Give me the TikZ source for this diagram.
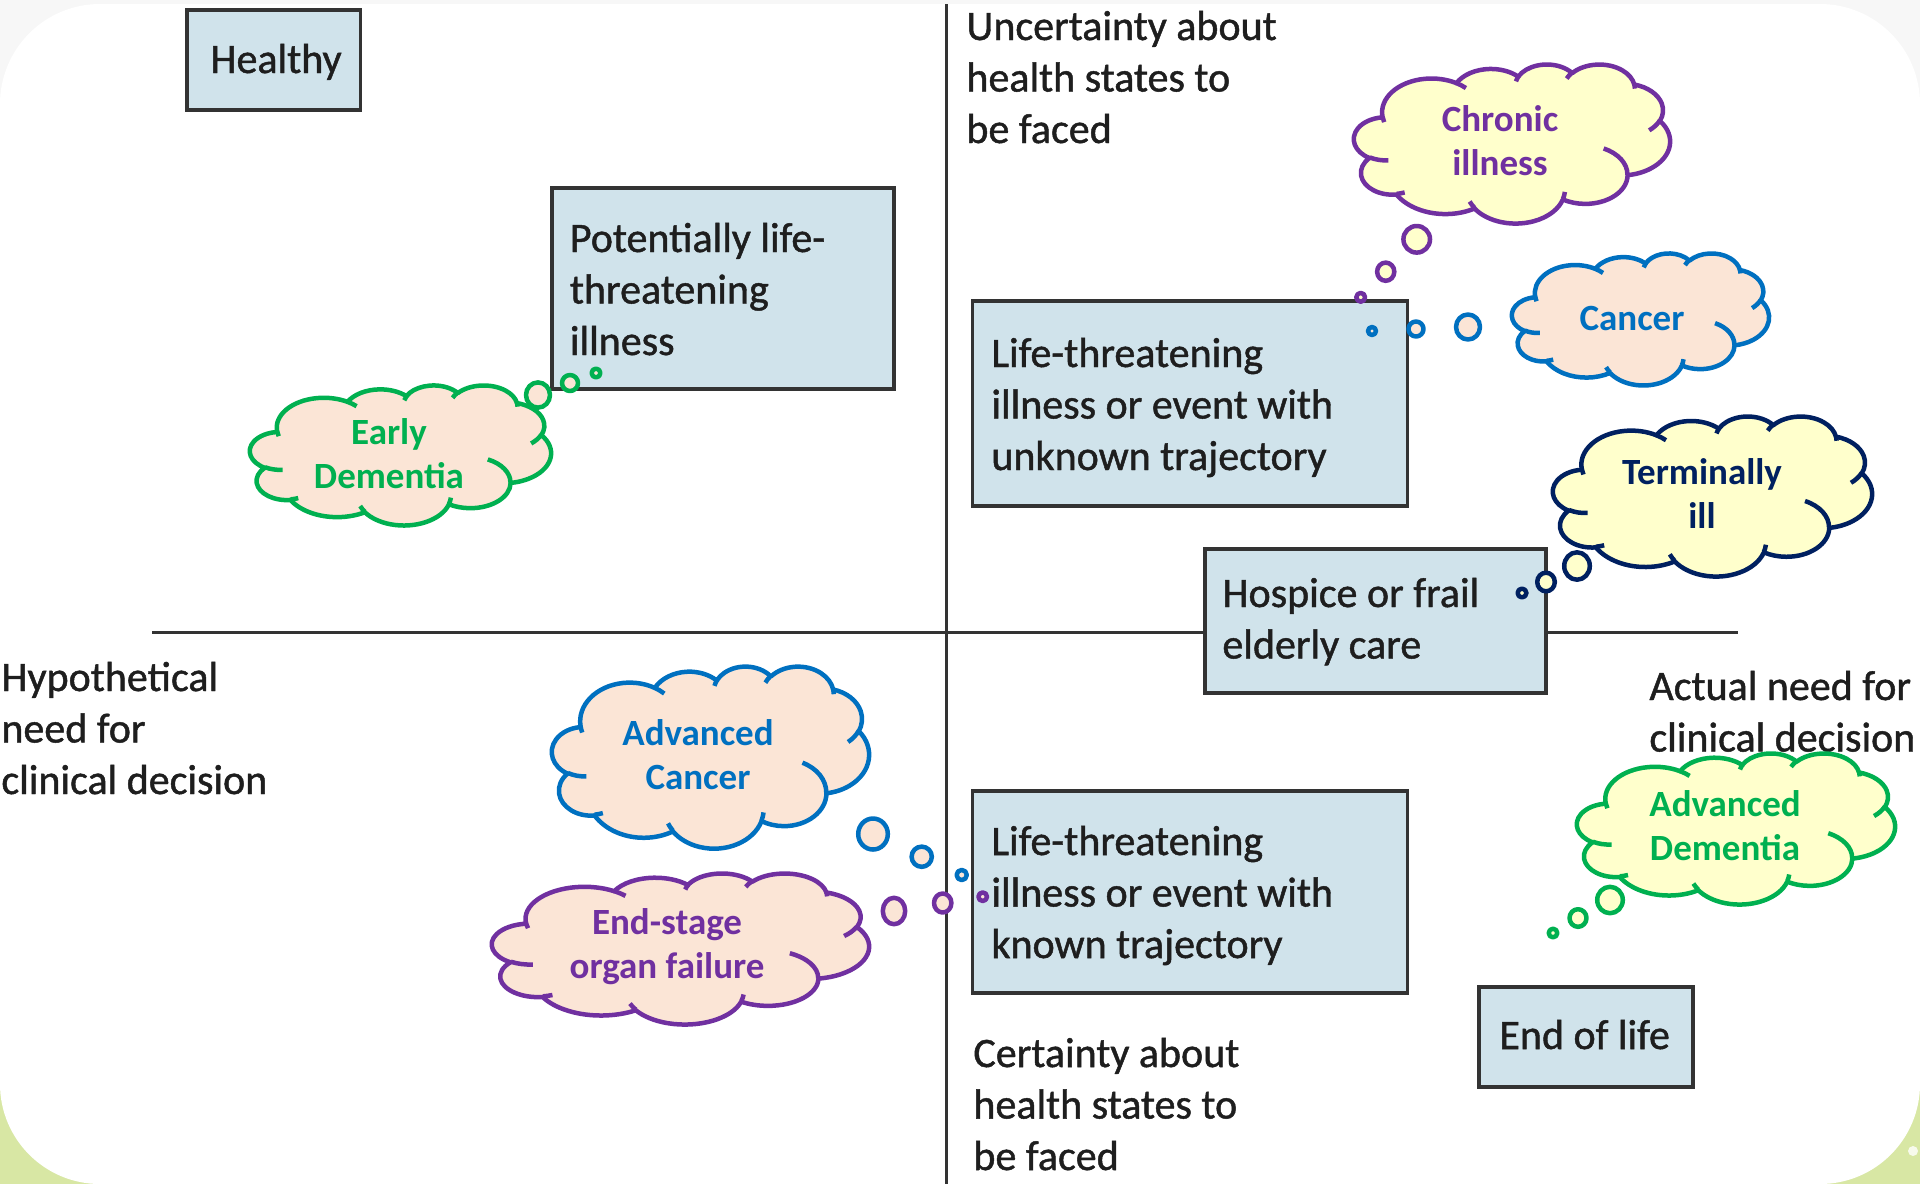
\documentclass[tikz,border=0pt]{standalone}
\usepackage{fontspec}
\setmainfont{Carlito}
\newfontfamily\boxfont{Carlito}[FakeBold=1.1]
\definecolor{boxfill}{HTML}{D0E3EB}
\definecolor{boxdraw}{HTML}{333333}
\definecolor{axisc}{HTML}{333333}
\definecolor{txt}{HTML}{1E1E1E}
\definecolor{cpurple}{HTML}{7030A0}
\definecolor{cblue}{HTML}{0070C0}
\definecolor{cnavy}{HTML}{002060}
\definecolor{cgreen}{HTML}{00B050}
\definecolor{cyellow}{HTML}{FFFFCC}
\definecolor{cpeach}{HTML}{FBE5D6}
\definecolor{bggray}{HTML}{F7F7F7}
\definecolor{bggreen}{HTML}{D8E7A4}

\newcommand\cldang[5]{%
  \pgfmathsetmacro\cldtmpa{atan2((#2)*sin(#4),(#3)*cos(#4))}%
  \pgfmathsetmacro\cldtmpb{atan2((#2)*sin((#4)+(#5)),(#3)*cos((#4)+(#5)))}%
  \pgfmathsetmacro\cldtmpd{mod(\cldtmpb-(\cldtmpa)+720,360)}%
  \expandafter\xdef\csname cld#1s\endcsname{\cldtmpa}%
  \expandafter\xdef\csname cld#1d\endcsname{\cldtmpd}%
}
\cldang{a}{6.753}{9.190}{-190.48748}{123.78053}
\cldang{b}{5.333}{7.267}{-144.10238}{89.94523}
\cldang{c}{4.365}{5.945}{-145.80792}{99.72302}
\cldang{d}{4.857}{6.595}{-130.98607}{117.24173}
\cldang{e}{5.333}{7.273}{-78.70888}{109.02692}
\cldang{f}{6.775}{9.220}{-46.26725}{130.269}
\cldang{g}{5.785}{7.867}{0.62502}{114.03333}
\cldang{h}{6.752}{9.215}{22.4516}{115.17255}
\cldang{i}{7.720}{10.543}{66.24263}{75.71102}
\cldang{j}{4.360}{5.918}{-274.94208}{146.73557}
\cldang{k}{4.345}{5.945}{-246.8285}{152.51885}
\cldang{l}{4.345}{5.945}{86.742}{26.4295}
\cldang{m}{4.360}{5.918}{73.61047}{11.44747}
\cldang{n}{6.752}{9.215}{137.62415}{14.0811}
\cldang{o}{6.752}{9.215}{6.45327}{15.99835}
\cldang{p}{5.785}{7.867}{-70.29235}{70.91737}
\cldang{q}{5.333}{7.273}{30.31803}{27.7515}
\cldang{r}{4.857}{6.595}{-13.74433}{14.8589}
\cldang{s}{4.857}{6.595}{-149.18145}{18.19537}
\cldang{t}{4.365}{5.945}{-163.49427}{17.68635}
\cldang{u}{6.753}{9.190}{-66.70695}{12.31935}
\cldang{v}{6.753}{9.190}{157.65435}{11.85817}

\newcommand\drawcloud[6]{%
 \begin{scope}[shift={(#1,#2)},xscale=#3/43.2,yscale=#4/43.2]
  \path[cloudline,draw=#5,fill=#6] (3.900,14.370)
   arc[x radius=6.753,y radius=9.190,start angle=\cldas,delta angle=\cldad]
   arc[x radius=5.333,y radius=7.267,start angle=\cldbs,delta angle=\cldbd]
   arc[x radius=4.365,y radius=5.945,start angle=\cldcs,delta angle=\cldcd]
   arc[x radius=4.857,y radius=6.595,start angle=\cldds,delta angle=\clddd]
   arc[x radius=5.333,y radius=7.273,start angle=\cldes,delta angle=\clded]
   arc[x radius=6.775,y radius=9.220,start angle=\cldfs,delta angle=\cldfd]
   arc[x radius=5.785,y radius=7.867,start angle=\cldgs,delta angle=\cldgd]
   arc[x radius=6.752,y radius=9.215,start angle=\cldhs,delta angle=\cldhd]
   arc[x radius=7.720,y radius=10.543,start angle=\cldis,delta angle=\cldid]
   arc[x radius=4.360,y radius=5.918,start angle=\cldjs,delta angle=\cldjd]
   arc[x radius=4.345,y radius=5.945,start angle=\cldks,delta angle=\cldkd]
   -- cycle;
  \path[cloudline,draw=#5]
   (4.693,26.177) arc[x radius=4.345,y radius=5.945,start angle=\cldls,delta angle=\cldld]
   (6.928,34.899) arc[x radius=4.360,y radius=5.918,start angle=\cldms,delta angle=\cldmd]
   (16.478,39.090) arc[x radius=6.752,y radius=9.215,start angle=\cldns,delta angle=\cldnd]
   (28.827,34.751) arc[x radius=6.752,y radius=9.215,start angle=\cldos,delta angle=\cldod]
   (34.129,22.954) arc[x radius=5.785,y radius=7.867,start angle=\cldps,delta angle=\cldpd]
   (41.798,15.354) arc[x radius=5.333,y radius=7.273,start angle=\cldqs,delta angle=\cldqd]
   (38.324,5.426) arc[x radius=4.857,y radius=6.595,start angle=\cldrs,delta angle=\cldrd]
   (29.078,3.952) arc[x radius=4.857,y radius=6.595,start angle=\cldss,delta angle=\cldsd]
   (22.141,4.720) arc[x radius=4.365,y radius=5.945,start angle=\cldts,delta angle=\cldtd]
   (14.000,5.192) arc[x radius=6.753,y radius=9.190,start angle=\cldus,delta angle=\cldud]
   (4.127,15.789) arc[x radius=6.753,y radius=9.190,start angle=\cldvs,delta angle=\cldvd];
 \end{scope}}

\tikzset{
 boxst/.style={draw=boxdraw, fill=boxfill, line width=1.75pt, inner sep=0pt},
 boxtxt/.style={font=\boxfont\fontsize{21}{25.75}\selectfont, text=txt, align=left, inner sep=0pt, anchor=base west},
 axisline/.style={draw=axisc, line width=1.5pt},
 cloudline/.style={line width=2.25pt, line join=round},
 cloudtxt/.style={font=\bfseries\fontsize{18.5}{22}\selectfont, align=center, inner sep=0pt}
}

\begin{document}
\begin{tikzpicture}[x=0.5pt,y=-0.5pt]
\useasboundingbox (0,0) rectangle (1920,1184);
% background
\fill[bggray] (0,0) rectangle (1920,1184);
\fill[bggreen] (0,900) rectangle (1920,1184);
\fill[white, rounded corners=50pt] (0,4) rectangle (1920,1184);
\fill[white, opacity=0.8] (1913,1151) circle[radius=5];

% axes
\coordinate (vtop) at (946,4);
\coordinate (vbot) at (946,1184);
\coordinate (hleft) at (152,632);
\coordinate (hright) at (1738,632);
\draw[axisline] (vtop) -- (vbot);
\draw[axisline] (hleft) -- (hright);

% boxes
\node[boxst, minimum width=86.75pt, minimum height=50pt] (healthy) at (273.75,60) {};
\node[boxst, minimum width=171pt, minimum height=100.5pt] (potbox) at (723,288.5) {};
\node[boxst, minimum width=217.5pt, minimum height=102.5pt] (unkbox) at (1190,403.5) {};
\node[boxst, minimum width=170.5pt, minimum height=72pt] (hosbox) at (1375.5,621) {};
\node[boxst, minimum width=217.5pt, minimum height=101pt] (knobox) at (1190,892) {};
\node[boxst, minimum width=107pt, minimum height=50pt] (endbox) at (1586,1037) {};

% texts (anchor = baseline of the last line)
\node[boxtxt] (healthyt) at (210,73) {Healthy};
\node[boxtxt] (pott) at (569.5,355) {Potentially life-\\threatening\\illness};
\node[boxtxt] (unkt) at (991,470) {Life-threatening\\illness or event with\\unknown trajectory};
\node[boxtxt] (host) at (1222,658.5) {Hospice or frail\\elderly care};
\node[boxtxt] (knot) at (991,958) {Life-threatening\\illness or event with\\known trajectory};
\node[boxtxt] (endt) at (1499,1049) {End of life};
\node[boxtxt] (unct) at (966,143) {Uncertainty about\\health states to\\be faced};
\node[boxtxt] (hypt) at (1,794) {Hypothetical\\need for\\clinical decision};
\node[boxtxt] (actt) at (1649,751.5) {Actual need for\\clinical decision};
\node[boxtxt] (cert) at (973,1170) {Certainty about\\health states to\\be faced};

% clouds
\drawcloud{250}{385}{301}{140}{cgreen}{cpeach}
\drawcloud{1354}{64}{316}{159}{cpurple}{cyellow}
\drawcloud{1512}{253}{257}{132}{cblue}{cpeach}
\drawcloud{1553}{416}{319}{160}{cnavy}{cyellow}
\drawcloud{552}{666}{317}{182}{cblue}{cpeach}
\drawcloud{492}{873}{377}{151}{cpurple}{cpeach}
\drawcloud{1577}{753}{318}{151}{cgreen}{cyellow}

% bubbles
\begin{scope}[cloudline]
\draw[cgreen, fill=cpeach] (538,395) ellipse[x radius=12, y radius=12.6];
\draw[cgreen, fill=cpeach] (570,383) ellipse[x radius=8, y radius=8];
\draw[cgreen, fill=cpeach] (596,373) ellipse[x radius=4.4, y radius=4.4];
\draw[cpurple, fill=cyellow] (1416.7,239.3) ellipse[x radius=13.3, y radius=13.3];
\draw[cpurple, fill=cyellow] (1385.7,271.7) ellipse[x radius=8.6, y radius=9.1];
\draw[cpurple, fill=cyellow] (1360.7,297.3) ellipse[x radius=4.4, y radius=4.4];
\draw[cblue, fill=cpeach] (1468,327) ellipse[x radius=12, y radius=12.5];
\draw[cblue, fill=cpeach] (1416,329) ellipse[x radius=7.5, y radius=7.5];
\draw[cblue, fill=cpeach] (1372,331) ellipse[x radius=4, y radius=4];
\draw[cnavy, fill=cyellow] (1577,566) ellipse[x radius=12.8, y radius=13.7];
\draw[cnavy, fill=cyellow] (1546,582) ellipse[x radius=8.8, y radius=9.3];
\draw[cnavy, fill=cyellow] (1522,593) ellipse[x radius=4.4, y radius=4.4];
\draw[cblue, fill=cpeach] (873,834) ellipse[x radius=14.8, y radius=15.5];
\draw[cblue, fill=cpeach] (921.7,856.7) ellipse[x radius=10.1, y radius=10.1];
\draw[cblue, fill=cpeach] (961.7,875) ellipse[x radius=5.1, y radius=5.1];
\draw[cpurple, fill=cpeach] (894,911) ellipse[x radius=11.2, y radius=13.2];
\draw[cpurple, fill=cpeach] (942.7,903) ellipse[x radius=8.7, y radius=9.5];
\draw[cpurple, fill=cpeach] (982.7,896.7) ellipse[x radius=4.3, y radius=4.3];
\draw[cgreen, fill=cyellow] (1610,900) ellipse[x radius=12.8, y radius=13.2];
\draw[cgreen, fill=cyellow] (1578,918) ellipse[x radius=8.5, y radius=8.8];
\draw[cgreen, fill=cyellow] (1553,933) ellipse[x radius=4.3, y radius=4.3];
\end{scope}

% cloud texts
\node[cloudtxt, text=cgreen] (earlyt) at (389,453.5) {Early\\Dementia};
\node[cloudtxt, text=cpurple] (chront) at (1500,141) {Chronic\\illness};
\node[cloudtxt, text=cblue] (cancert) at (1632,318) {Cancer};
\node[cloudtxt, text=cnavy] (termt) at (1702,494) {Terminally\\ill};
\node[cloudtxt, text=cblue] (advct) at (698,754.5) {Advanced\\Cancer};
\node[cloudtxt, text=cpurple] (endst) at (667,946.5) {End-stage\\organ failure};
\node[cloudtxt, text=cgreen] (advdt) at (1725,826) {Advanced\\Dementia};
\end{tikzpicture}
\end{document}
